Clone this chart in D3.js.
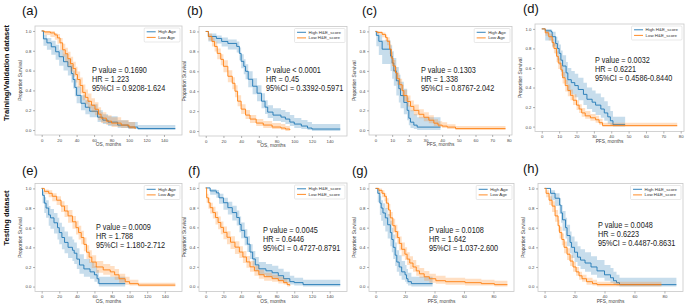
<!DOCTYPE html>
<html>
<head>
<meta charset="utf-8">
<script src="https://cdn.jsdelivr.net/npm/d3@7"></script>
<style>
  body { margin: 0; background: #fff; }
  svg { display: block; font-family: "Liberation Sans", Arial, sans-serif; }
  .tick text { font-size: 4.3px; fill: #444; }
  .tick line { stroke: #666; }
  .domain { display: none; }
</style>
</head>
<body>
<svg id="fig" width="685" height="305"></svg>
<script>
// ---- chart data ----
var panelLetters = ['(a)', '(b)', '(c)', '(d)', '(e)', '(f)', '(g)', '(h)'];
var rowLabels = ['Training/Validation dataset', 'Testing dataset'];
var xLabels = ['OS, months', 'OS, months', 'PFS, months', 'PFS, months',
               'OS, months', 'OS, months', 'PFS, months', 'PFS, months'];
var yLabel = 'Proportion Survival';
var ageGroups = ['High Age', 'Low Age'];
var heGroups = ['High H&E_score', 'Low H&E_score'];
var pValues = ['P value = 0.1690', 'P value < 0.0001', 'P value = 0.1303', 'P value = 0.0032',
               'P value = 0.0009', 'P value = 0.0045', 'P value = 0.0108', 'P value = 0.0048'];
var hrValues = ['HR = 1.223', 'HR = 0.45', 'HR = 1.338', 'HR = 0.6221',
                'HR = 1.788', 'HR = 0.6446', 'HR = 1.642', 'HR = 0.6223'];
var ciValues = ['95%CI = 0.9208-1.624', '95%CI = 0.3392-0.5971', '95%CI = 0.8767-2.042', '95%CI = 0.4586-0.8440',
                '95%CI = 1.180-2.712', '95%CI = 0.4727-0.8791', '95%CI = 1.037-2.600', '95%CI = 0.4487-0.8631'];
var xTicksOS = [0, 20, 40, 60, 80, 100, 120, 140];
var xTicksPFS10 = [0, 10, 20, 30, 40, 50, 60, 70, 80];
var xTicksPFS20 = [0, 20, 40, 60, 80];
var yTicks = [0, 0.2, 0.4, 0.6, 0.8, 1.0];

// each row: [months, survival, ci low, ci high]
var aHigh = [[0,1,1,1],[2,0.92,0.85,0.96],[6,0.88,0.81,0.93],[11,0.84,0.76,0.9],[16,0.79,0.71,0.86],
  [20,0.74,0.65,0.81],[25,0.69,0.6,0.77],[30,0.64,0.55,0.72],[34,0.57,0.48,0.66],[36,0.51,0.42,0.6],
  [38,0.43,0.34,0.52],[40,0.35,0.27,0.44],[45,0.27,0.2,0.35],[50,0.23,0.16,0.3],[55,0.19,0.13,0.26],
  [64,0.13,0.08,0.2],[70,0.1,0.06,0.16],[76,0.08,0.04,0.14],[87,0.05,0.02,0.1],[99,0.03,0.01,0.08],
  [110,0.015,0,0.05],[153,0.015,0,0.05]];
var aLow = [[0,1,1,1],[3,0.99,0.96,1],[10,0.98,0.94,1],[15,0.96,0.91,0.98],[18,0.93,0.87,0.97],
  [21,0.88,0.81,0.93],[24,0.81,0.74,0.87],[27,0.77,0.69,0.83],[30,0.72,0.64,0.79],[33,0.67,0.59,0.74],
  [36,0.62,0.54,0.69],[39,0.56,0.48,0.64],[41,0.51,0.43,0.59],[44,0.45,0.37,0.53],[47,0.38,0.3,0.46],
  [50,0.33,0.26,0.41],[53,0.29,0.22,0.37],[57,0.25,0.18,0.32],[61,0.21,0.15,0.28],[65,0.16,0.1,0.23],
  [68,0.12,0.07,0.18],[74,0.09,0.05,0.15],[80,0.07,0.03,0.13],[91,0.05,0.02,0.1],[100,0.03,0.01,0.08],
  [107,0.01,0,0.06]];
var bHigh = [[0,1,1,1],[3,0.95,0.9,0.98],[12,0.93,0.88,0.96],[18,0.9,0.85,0.94],[25,0.88,0.82,0.92],
  [35,0.85,0.79,0.9],[38,0.78,0.71,0.84],[40,0.7,0.63,0.77],[43,0.65,0.57,0.72],[45,0.6,0.52,0.67],
  [48,0.52,0.44,0.6],[53,0.45,0.37,0.53],[58,0.38,0.3,0.46],[63,0.3,0.23,0.38],[67,0.24,0.17,0.31],
  [70,0.19,0.13,0.26],[76,0.16,0.1,0.23],[85,0.14,0.09,0.21],[90,0.12,0.07,0.19],[95,0.09,0.05,0.16],
  [100,0.07,0.03,0.13],[108,0.05,0.02,0.11],[115,0.03,0.01,0.09],[120,0.02,0,0.07],[152,0.02,0,0.07]];
var bLow = [[0,1,1,1],[3,0.95,0.91,0.98],[7,0.9,0.85,0.94],[10,0.85,0.8,0.9],[13,0.78,0.72,0.83],
  [17,0.72,0.66,0.77],[20,0.65,0.59,0.71],[25,0.55,0.49,0.61],[30,0.48,0.42,0.54],[33,0.4,0.34,0.46],
  [36,0.3,0.25,0.36],[40,0.22,0.17,0.27],[45,0.16,0.12,0.21],[50,0.12,0.08,0.16],[57,0.08,0.05,0.12],
  [65,0.06,0.03,0.1],[75,0.04,0.02,0.08],[85,0.03,0.01,0.07],[90,0.02,0,0.05],[95,0.01,0,0.03]];
var cHigh = [[0,1,1,1],[0.5,0.96,0.85,1],[2,0.9,0.76,0.97],[4,0.82,0.67,0.91],[9,0.75,0.6,0.86],
  [10,0.68,0.52,0.8],[11,0.6,0.45,0.73],[12.5,0.5,0.35,0.64],[14,0.42,0.28,0.56],[15,0.35,0.22,0.49],
  [17,0.28,0.16,0.42],[19,0.2,0.1,0.33],[20,0.12,0.05,0.25],[21,0.08,0.02,0.2],[23,0.05,0.01,0.16],
  [25,0.03,0,0.13],[39,0.03,0,0.13]];
var cLow = [[0,1,1,1],[1,0.99,0.97,1],[4,0.97,0.94,0.99],[6,0.94,0.9,0.97],[7,0.9,0.86,0.94],
  [8.5,0.82,0.77,0.87],[9.5,0.73,0.67,0.79],[10.5,0.65,0.59,0.71],[12,0.58,0.52,0.64],[13,0.52,0.46,0.58],
  [14.5,0.46,0.4,0.52],[16,0.4,0.34,0.46],[17,0.35,0.29,0.41],[19,0.29,0.24,0.35],[21,0.24,0.19,0.3],
  [23,0.2,0.15,0.26],[26,0.16,0.12,0.21],[29,0.13,0.09,0.18],[32,0.1,0.07,0.15],[35,0.07,0.04,0.11],
  [37.5,0.05,0.03,0.09],[40,0.04,0.02,0.08],[43,0.03,0.01,0.06],[48,0.015,0,0.04],[78,0.015,0,0.04]];
var dHigh = [[0,1,1,1],[2,0.98,0.88,1],[5.5,0.97,0.86,0.99],[6,0.92,0.82,0.97],[8,0.85,0.74,0.92],
  [9,0.8,0.68,0.88],[10,0.75,0.63,0.84],[11,0.68,0.56,0.78],[12,0.62,0.5,0.73],[14,0.55,0.43,0.66],
  [15,0.48,0.36,0.6],[17,0.45,0.33,0.57],[19,0.42,0.3,0.54],[21,0.38,0.27,0.5],[24,0.33,0.22,0.45],
  [26,0.28,0.18,0.4],[29,0.25,0.15,0.37],[31,0.22,0.12,0.34],[34,0.18,0.09,0.3],[36,0.14,0.06,0.26],
  [38,0.1,0.03,0.21],[39.5,0.06,0.01,0.16],[41,0.02,0,0.1],[48,0.02,0,0.1]];
var dLow = [[0,1,1,1],[2,0.96,0.93,0.98],[4,0.92,0.88,0.95],[6,0.86,0.81,0.9],[7,0.8,0.75,0.85],
  [8.5,0.72,0.66,0.77],[9.5,0.65,0.59,0.7],[11,0.58,0.52,0.63],[12,0.5,0.44,0.56],[13.5,0.42,0.36,0.48],
  [15,0.37,0.31,0.43],[16.5,0.32,0.27,0.38],[18,0.27,0.22,0.33],[20,0.22,0.17,0.27],[21.5,0.18,0.14,0.23],
  [23,0.14,0.1,0.19],[25,0.11,0.08,0.16],[28,0.09,0.06,0.13],[31,0.07,0.04,0.11],[33,0.04,0.02,0.08],
  [35,0.01,0,0.04],[78,0.01,0,0.04]];
var eHigh = [[0,1,1,1],[1,0.93,0.85,0.97],[3,0.85,0.75,0.91],[5,0.8,0.7,0.88],[8,0.73,0.62,0.82],
  [10,0.7,0.59,0.79],[14,0.65,0.54,0.75],[18,0.6,0.48,0.7],[20,0.55,0.43,0.65],[23,0.5,0.38,0.61],
  [26,0.45,0.34,0.56],[30,0.4,0.29,0.51],[35,0.37,0.26,0.48],[37,0.34,0.23,0.45],[40,0.28,0.18,0.39],
  [43,0.22,0.13,0.33],[48,0.18,0.1,0.28],[55,0.15,0.08,0.25],[60,0.12,0.05,0.21],[63,0.08,0.03,0.17],
  [65,0.03,0,0.1],[95,0.03,0,0.1]];
var eLow = [[0,1,1,1],[3,0.97,0.94,0.99],[8,0.95,0.91,0.98],[12,0.92,0.87,0.95],[17,0.88,0.83,0.92],
  [22,0.82,0.76,0.87],[26,0.77,0.71,0.83],[30,0.72,0.65,0.78],[35,0.66,0.59,0.72],[39,0.6,0.53,0.67],
  [42,0.55,0.48,0.62],[45,0.5,0.43,0.57],[48,0.43,0.36,0.5],[51,0.35,0.28,0.42],[54,0.3,0.24,0.37],
  [57,0.25,0.19,0.32],[62,0.2,0.14,0.26],[70,0.17,0.12,0.23],[78,0.15,0.1,0.21],[83,0.12,0.07,0.18],
  [88,0.08,0.04,0.13],[95,0.05,0.02,0.1],[100,0.03,0.01,0.07],[110,0.015,0,0.04],[152,0.015,0,0.04]];
var fHigh = [[0,1,1,1],[5,0.97,0.93,0.99],[12,0.95,0.9,0.98],[15,0.9,0.84,0.94],[20,0.85,0.78,0.9],
  [25,0.8,0.73,0.86],[30,0.75,0.67,0.82],[35,0.7,0.62,0.77],[38,0.63,0.55,0.71],[40,0.57,0.49,0.65],
  [44,0.5,0.42,0.58],[47,0.43,0.35,0.51],[50,0.35,0.28,0.43],[53,0.28,0.21,0.36],[56,0.22,0.16,0.3],
  [60,0.18,0.12,0.25],[68,0.16,0.1,0.23],[75,0.14,0.08,0.21],[82,0.11,0.06,0.18],[88,0.08,0.04,0.15],
  [95,0.05,0.02,0.11],[100,0.04,0.01,0.09],[110,0.02,0,0.07],[152,0.02,0,0.07]];
var fLow = [[0,1,1,1],[1,0.9,0.85,0.94],[3,0.85,0.79,0.9],[5,0.8,0.74,0.85],[8,0.75,0.69,0.81],
  [11,0.7,0.63,0.76],[14,0.65,0.58,0.71],[17,0.6,0.53,0.66],[20,0.55,0.48,0.61],[24,0.5,0.43,0.56],
  [28,0.45,0.38,0.51],[33,0.4,0.33,0.46],[38,0.35,0.29,0.41],[42,0.3,0.24,0.36],[46,0.25,0.19,0.31],
  [50,0.2,0.15,0.26],[55,0.16,0.11,0.21],[60,0.12,0.08,0.17],[66,0.1,0.06,0.14],[75,0.08,0.05,0.12],
  [82,0.06,0.03,0.1],[88,0.04,0.02,0.08],[92,0.02,0,0.05],[95,0.01,0,0.03]];
var gHigh = [[0,1,1,1],[1.5,0.95,0.86,0.99],[2.9,0.85,0.73,0.92],[3.8,0.8,0.67,0.88],[5,0.75,0.62,0.85],
  [6.6,0.7,0.56,0.8],[8.2,0.63,0.49,0.74],[10,0.55,0.41,0.67],[11,0.48,0.35,0.6],[12,0.4,0.28,0.53],
  [13.3,0.32,0.21,0.45],[14.4,0.25,0.15,0.37],[16,0.2,0.11,0.32],[17.7,0.15,0.07,0.26],[20,0.12,0.05,0.22],
  [21,0.08,0.03,0.18],[22,0.05,0.01,0.14],[24.3,0.03,0,0.1],[38.7,0.03,0,0.1]];
var gLow = [[0,1,1,1],[2.2,0.98,0.95,1],[4.4,0.95,0.91,0.98],[6,0.92,0.87,0.95],[7.3,0.85,0.79,0.9],
  [8.8,0.78,0.72,0.84],[10,0.7,0.63,0.76],[11.7,0.62,0.55,0.69],[13.3,0.56,0.49,0.63],[14.8,0.5,0.43,0.57],
  [16.1,0.44,0.37,0.51],[17.7,0.38,0.31,0.45],[19.9,0.33,0.27,0.4],[21.4,0.28,0.22,0.35],[23.2,0.24,0.18,0.31],
  [25.4,0.2,0.15,0.27],[27.6,0.16,0.11,0.22],[29.8,0.13,0.09,0.19],[33,0.1,0.06,0.16],[36.5,0.08,0.04,0.13],
  [40.9,0.06,0.03,0.11],[47.5,0.05,0.02,0.09],[60.8,0.04,0.01,0.08],[71.8,0.03,0.01,0.07],[80.7,0.02,0,0.06],
  [89.5,0.02,0,0.06]];
var hHigh = [[0,1,1,1],[4,0.95,0.88,0.98],[7,0.9,0.82,0.95],[10,0.83,0.74,0.9],[11,0.75,0.65,0.83],
  [12,0.68,0.57,0.77],[14,0.6,0.49,0.7],[15,0.52,0.41,0.63],[17,0.45,0.34,0.56],[18,0.4,0.29,0.51],
  [20,0.35,0.25,0.46],[22,0.3,0.21,0.41],[24,0.27,0.18,0.38],[27,0.24,0.15,0.35],[31,0.2,0.12,0.31],
  [35,0.16,0.09,0.27],[40,0.12,0.06,0.22],[44,0.09,0.04,0.19],[46,0.06,0.02,0.15],[48,0.04,0.01,0.12],
  [50,0.02,0,0.09],[88,0.02,0,0.09]];
var hLow = [[0,1,1,1],[1,0.95,0.91,0.98],[3,0.88,0.83,0.92],[5,0.82,0.76,0.87],[7,0.72,0.66,0.78],
  [9,0.62,0.56,0.68],[10,0.55,0.49,0.61],[11.5,0.48,0.42,0.54],[13,0.4,0.34,0.46],[15,0.33,0.27,0.39],
  [17,0.26,0.21,0.32],[19,0.2,0.15,0.25],[21,0.15,0.11,0.2],[23,0.11,0.07,0.15],[25,0.08,0.05,0.12],
  [28,0.05,0.02,0.09],[32,0.03,0.01,0.07],[35,0.02,0,0.05],[78,0.02,0,0.05]];

var colors = ['#1f77b4', '#ff7f0e'];

// ---- layout of each subplot (frame box in px, x data max) ----
var panels = [
  {curves: [aHigh, aLow], groups: ageGroups, ticks: xTicksOS,    xmax: 153,  box: [35, 182, 26, 135],  label: [22, 15],  note: [92, 73]},
  {curves: [bHigh, bLow], groups: heGroups,  ticks: xTicksOS,    xmax: 152,  box: [199, 347, 26.5, 136], label: [187, 15], note: [266, 73]},
  {curves: [cHigh, cLow], groups: ageGroups, ticks: xTicksPFS10, xmax: 78,   box: [369, 512, 26.5, 135], label: [362, 15], note: [421, 73]},
  {curves: [dHigh, dLow], groups: heGroups,  ticks: xTicksPFS10, xmax: 78,   box: [535, 684, 24, 131.5], label: [523, 13], note: [595, 63]},
  {curves: [eHigh, eLow], groups: ageGroups, ticks: xTicksOS,    xmax: 152,  box: [35, 182, 183.5, 291.5], label: [22, 175], note: [96, 230]},
  {curves: [fHigh, fLow], groups: heGroups,  ticks: xTicksOS,    xmax: 152,  box: [199, 347, 183, 291.5], label: [188, 175], note: [263, 233]},
  {curves: [gHigh, gLow], groups: ageGroups, ticks: xTicksPFS20, xmax: 89.5, box: [369, 514, 183.5, 291.5], label: [352, 175], note: [429, 233]},
  {curves: [hHigh, hLow], groups: heGroups,  ticks: xTicksPFS20, xmax: 88,   box: [538, 683, 183.5, 291.5], label: [523, 173], note: [598, 228]}
];

var svg = d3.select('#fig');

var drawPanel = function(p, i) {
  var x0 = p.box[0], x1 = p.box[1], y0 = p.box[2], y1 = p.box[3];
  var x = d3.scaleLinear().domain([-0.05 * p.xmax, 1.05 * p.xmax]).range([x0, x1]);
  var y = d3.scaleLinear().domain([-0.05, 1.05]).range([y1, y0]);
  var g = svg.append('g').attr('class', 'panel');

  // frame
  g.append('rect')
    .attr('x', x0).attr('y', y0)
    .attr('width', x1 - x0).attr('height', y1 - y0)
    .attr('fill', 'none').attr('stroke', '#c8c8c8').attr('stroke-width', 0.8);

  // axes
  g.append('g')
    .attr('transform', 'translate(0,' + y1 + ')')
    .call(d3.axisBottom(x).tickValues(p.ticks).tickSize(2).tickPadding(1.5).tickFormat(d3.format('d')))
    .selectAll('line').attr('stroke-width', 0.5);
  g.append('g')
    .attr('transform', 'translate(' + x0 + ',0)')
    .call(d3.axisLeft(y).tickValues(yTicks).tickSize(2).tickPadding(1.5).tickFormat(d3.format('.1f')))
    .selectAll('line').attr('stroke-width', 0.5);

  // axis labels
  g.append('text')
    .attr('x', (x0 + x1) / 2).attr('y', y1 + 11)
    .attr('text-anchor', 'middle')
    .attr('font-size', 4.8).attr('fill', '#444')
    .text(xLabels[i]);
  g.append('text')
    .attr('transform', 'translate(' + (x0 - 13) + ',' + ((y0 + y1) / 2) + ') rotate(-90)')
    .attr('text-anchor', 'middle')
    .attr('font-size', 4.8).attr('fill', '#444')
    .text(yLabel);

  // KM curves with confidence bands
  var band = d3.area().curve(d3.curveStepAfter)
    .x(d => x(d[0])).y0(d => y(d[2])).y1(d => y(d[3]));
  var line = d3.line().curve(d3.curveStepAfter)
    .x(d => x(d[0])).y(d => y(d[1]));

  p.curves.forEach(function(c, k) {
    g.append('path').attr('d', band(c))
      .attr('fill', colors[k]).attr('fill-opacity', 0.25).attr('stroke', 'none');
    g.append('path').attr('d', line(c))
      .attr('fill', 'none').attr('stroke', colors[k]).attr('stroke-width', 0.9);
  });

  // legend
  var leg = g.append('g');
  var legText = leg.selectAll('text.leg')
    .data(p.groups).enter()
    .append('text')
    .attr('class', 'leg')
    .attr('font-size', 4.4).attr('fill', '#333')
    .text(d => d);
  var tw = d3.max(legText.nodes(), n => n.getComputedTextLength());
  var lw = tw + 18, lh = 14;
  var lx = x1 - lw - 2, ly = y0 + 2;
  leg.insert('rect', ':first-child')
    .attr('x', lx).attr('y', ly).attr('width', lw).attr('height', lh)
    .attr('rx', 1).attr('fill', '#fff').attr('fill-opacity', 0.8)
    .attr('stroke', '#d0d0d0').attr('stroke-width', 0.5);
  legText.attr('x', lx + 14).attr('y', (d, k) => ly + 5.3 + k * 5.6);
  leg.selectAll('line.leg')
    .data(p.groups).enter()
    .append('line')
    .attr('x1', lx + 2.5).attr('x2', lx + 11.5)
    .attr('y1', (d, k) => ly + 3.8 + k * 5.6).attr('y2', (d, k) => ly + 3.8 + k * 5.6)
    .attr('stroke', (d, k) => colors[k]).attr('stroke-width', 0.9);

  // statistics (narrow face, like the original's Calibri)
  var note = g.append('text')
    .attr('transform', 'translate(' + p.note[0] + ',' + p.note[1] + ') scale(0.83,1)')
    .attr('font-size', 8.8).attr('fill', '#222');
  [pValues[i], hrValues[i], ciValues[i]].forEach(function(s, k) {
    note.append('tspan').attr('x', 0).attr('dy', k === 0 ? 0 : 9.2).text(s);
  });

  // panel letter
  svg.append('text')
    .attr('x', p.label[0]).attr('y', p.label[1])
    .attr('font-size', 13).attr('fill', '#111')
    .text(panelLetters[i]);
};

panels.forEach(drawPanel);

// row labels
[[9, 73], [9, 218]].forEach(function(pos, r) {
  svg.append('text')
    .attr('transform', 'translate(' + pos[0] + ',' + pos[1] + ') rotate(-90)')
    .attr('text-anchor', 'middle')
    .attr('font-size', 7.6).attr('font-weight', 'bold').attr('fill', '#111')
    .text(rowLabels[r]);
});
</script>
</body>
</html>
